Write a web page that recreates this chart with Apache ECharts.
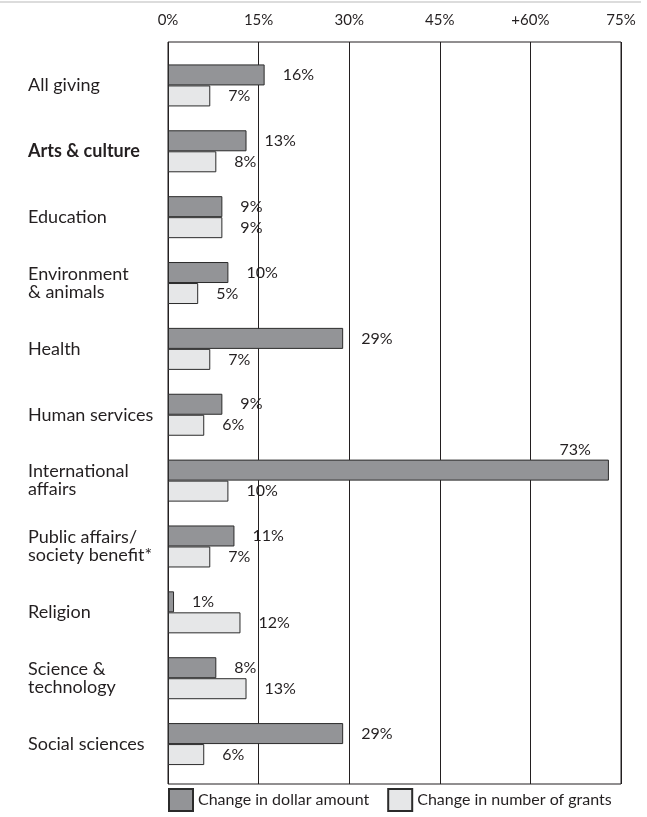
<!DOCTYPE html>
<html>
<head>
<meta charset="utf-8">
<script src="https://cdn.jsdelivr.net/npm/echarts@6/dist/echarts.min.js"></script>
<style>
  html, body { margin: 0; padding: 0; background: #fff; }
  #chart { width: 647px; height: 817px; }
</style>
</head>
<body>
<div id="chart"></div>
<script>
// Percentage change by subject area
const categories = [
  'All giving', 'Arts & culture', 'Education', 'Environment\n& animals', 'Health',
  'Human services', 'International\naffairs', 'Public affairs/\nsociety benefit*',
  'Religion', 'Science &\ntechnology', 'Social sciences'
];
const dollarChange = [16, 13, 9, 10, 29, 9, 73, 11, 1, 8, 29];
const grantsChange = [7, 8, 9, 5, 7, 6, 10, 7, 12, 13, 6];
const tickValues = [0, 15, 30, 45, 60, 75];
const tickLabels = ['0%', '15%', '30%', '45%', '+60%', '75%'];
const seriesNames = ['Change in dollar amount', 'Change in number of grants'];

const FONT = 'Lato, "Open Sans", sans-serif';
const INK = '#231f20';

const chart = echarts.init(document.getElementById('chart'), null, { renderer: 'canvas' });

const pctLabel = {
  show: true,
  position: 'right',
  distance: 18,
  formatter: p => p.value + '%',
  fontFamily: FONT,
  fontSize: 16,
  color: INK
};

// Dollar series: the widest bar carries its label above its right end
const dollarData = dollarChange.map(v => {
  if (v >= 60) {
    return {
      value: v,
      label: {
        position: ['100%', 0],
        align: 'right',
        verticalAlign: 'bottom',
        offset: [-18, -2]
      }
    };
  }
  return v;
});

chart.setOption({
  animation: false,
  backgroundColor: '#fff',
  textStyle: { fontFamily: FONT },
  graphic: [{
    type: 'line',
    shape: { x1: 0, y1: 2, x2: 641, y2: 2 },
    style: { stroke: '#dcdcdc', lineWidth: 2 }
  }],
  grid: [
    { left: 168, right: 26, top: 42, bottom: 33, show: true, borderColor: INK, borderWidth: 1, containLabel: false },
    { left: 168, right: 26, top: 52.5, height: 724.5, containLabel: false }
  ],
  xAxis: [
    {
      gridIndex: 0, type: 'value', position: 'top',
      min: 0, max: 75, interval: 15,
      axisLine: { show: false }, axisTick: { show: false },
      splitLine: { show: true, lineStyle: { color: INK, width: 1 } },
      axisLabel: {
        margin: 14, fontSize: 15, color: INK, fontFamily: FONT,
        formatter: v => tickLabels[tickValues.indexOf(v)]
      }
    },
    {
      gridIndex: 1, type: 'value', min: 0, max: 75, show: false
    }
  ],
  yAxis: [
    { gridIndex: 0, type: 'value', show: false },
    {
      gridIndex: 1, type: 'category', data: categories, inverse: true,
      axisLine: { show: false }, axisTick: { show: false },
      axisLabel: {
        align: 'left', margin: 140,
        fontSize: 18, lineHeight: 18, color: INK, fontFamily: FONT,
        formatter: v => v === 'Arts & culture' ? '{b|' + v + '}' : v,
        rich: { b: { fontWeight: 'bold', fontSize: 18, color: INK, fontFamily: FONT } }
      }
    }
  ],
  legend: {
    data: seriesNames,
    left: 168, top: 788, padding: 0,
    itemWidth: 24, itemHeight: 22, itemGap: 18,
    icon: 'rect',
    textStyle: { fontSize: 16, color: INK, fontFamily: FONT }
  },
  series: [
    {
      name: seriesNames[0], type: 'bar', xAxisIndex: 1, yAxisIndex: 1,
      data: dollarData, barWidth: 21, barGap: '0%',
      itemStyle: { color: '#939497', borderColor: '#2b2b2b', borderWidth: 1 },
      label: pctLabel
    },
    {
      name: seriesNames[1], type: 'bar', xAxisIndex: 1, yAxisIndex: 1,
      data: grantsChange, barWidth: 21, barGap: '0%',
      itemStyle: { color: '#e6e7e8', borderColor: '#2b2b2b', borderWidth: 1 },
      label: pctLabel
    }
  ]
});
</script>
</body>
</html>
